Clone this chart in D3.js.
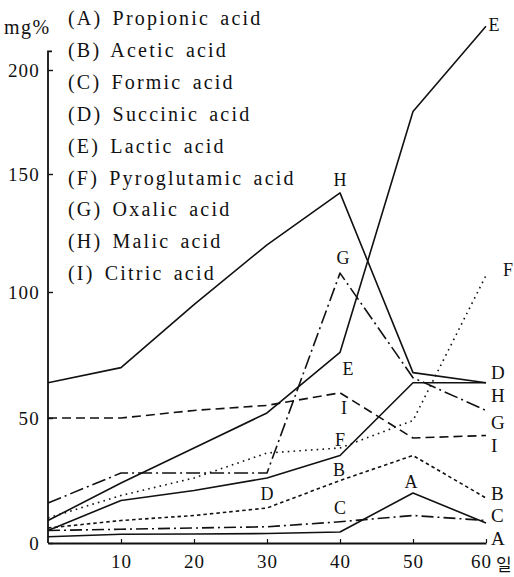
<!DOCTYPE html>
<html>
<head>
<meta charset="utf-8">
<script src="https://cdn.jsdelivr.net/npm/d3@7"></script>
<style>
  html, body { margin: 0; padding: 0; background: #fff; }
  svg { display: block; }
  svg text { font-family: "Liberation Serif", "Times New Roman", "Liberation Sans", sans-serif; }
</style>
</head>
<body>
<svg id="chart"></svg>
<script>
// days of storage
const days = [0, 10, 20, 30, 40, 50, 60];

// mg%
const propionic    = [2.5, 3.5, 3.6, 3.8, 4.4, 20, 8];
const acetic       = [6, 9, 11, 14, 25, 35, 18];
const formic       = [5, 5.5, 6, 6.5, 8.5, 11, 9];
const succinic     = [5, 17, 21, 26, 35, 64, 64];
const lactic       = [9, 24, 38, 52, 76, 180, 221];
const pyroglutamic = [10, 19, 26, 36, 38, 49, 107];
const oxalic       = [16, 28, 28, 28, 108, 66, 53];
const malic        = [64, 70, 95, 120, 142, 68, 64];
const citric       = [50, 50, 53, 55, 60, 42, 43];

const yTicks = [0, 50, 100, 150, 200];
const xTicks = [10, 20, 30, 40, 50, 60];

const legendLabels = [
  "(A) Propionic acid", "(B) Acetic acid", "(C) Formic acid",
  "(D) Succinic acid", "(E) Lactic acid", "(F) Pyroglutamic acid",
  "(G) Oxalic acid", "(H) Malic acid", "(I) Citric acid"
];

const W = 514, H = 577;
const svg = d3.select("#chart")
  .attr("width", W)
  .attr("height", H);

const x = d3.scaleLinear().domain([0, 60]).range([48, 486]);
// the printed axis is not evenly spaced, so the scale is piecewise
const y = d3.scaleLinear().domain(yTicks).range([543, 418, 292, 174, 70]);

const series = [
  { key: "A", v: propionic,    dash: null },
  { key: "B", v: acetic,       dash: "3.5,3" },
  { key: "C", v: formic,       dash: "12,4,2,4" },
  { key: "D", v: succinic,     dash: null },
  { key: "E", v: lactic,       dash: null },
  { key: "F", v: pyroglutamic, dash: "1.6,4.2" },
  { key: "G", v: oxalic,       dash: "14,4,2,4" },
  { key: "H", v: malic,        dash: null },
  { key: "I", v: citric,       dash: "9,5" }
];

const line = d3.line()
  .x((d, i) => x(days[i]))
  .y(d => y(d));

svg.append("g")
  .selectAll("path")
  .data(series)
  .join("path")
  .attr("d", d => line(d.v))
  .attr("fill", "none")
  .attr("stroke", "#111")
  .attr("stroke-width", 1.6)
  .attr("stroke-linejoin", "round")
  .attr("stroke-dasharray", d => d.dash);

// axes
const yAxis = svg.append("g")
  .attr("transform", `translate(${x(0)},0)`)
  .call(d3.axisLeft(y).tickValues(yTicks).tickSize(-5).tickSizeOuter(0).tickPadding(8));
yAxis.attr("font-family", null);
yAxis.select(".domain").remove();
yAxis.selectAll(".tick line").attr("stroke", "#111").attr("stroke-width", 1.4);
yAxis.selectAll(".tick text")
  .attr("fill", "#111")
  .style("font-size", "19px")
  .style("letter-spacing", "1.2px");

svg.append("path")
  .attr("d", `M${x(0)},${y(0)}V${y(209)}h4`)
  .attr("fill", "none")
  .attr("stroke", "#111")
  .attr("stroke-width", 1.8);

const xAxis = svg.append("g")
  .attr("transform", `translate(0,${y(0)})`)
  .call(d3.axisBottom(x).tickValues(xTicks).tickSize(-4).tickSizeOuter(0).tickPadding(12));
xAxis.attr("font-family", null);
xAxis.select(".domain").attr("stroke", "#111").attr("stroke-width", 1.8);
xAxis.selectAll(".tick line").attr("stroke", "#111").attr("stroke-width", 1.2);
xAxis.selectAll(".tick text")
  .attr("fill", "#111")
  .attr("dx", d => d === 60 ? -5 : 0)
  .style("font-size", "19px")
  .style("letter-spacing", "1px");

svg.append("text")
  .attr("x", x(60) + 10)
  .attr("y", y(0) + 28)
  .style("font-size", "17px")
  .style("font-family", "'Noto Sans CJK KR', sans-serif")
  .attr("fill", "#111")
  .text("일");

svg.append("text")
  .attr("x", 4)
  .attr("y", 34)
  .style("font-size", "20px")
  .style("letter-spacing", "1.5px")
  .attr("fill", "#111")
  .text("mg%");

// legend
svg.append("g")
  .selectAll("text")
  .data(legendLabels)
  .join("text")
  .attr("x", 68)
  .attr("y", (d, i) => 18 + i * 31.9)
  .attr("dy", "0.35em")
  .style("font-size", "20px")
  .style("letter-spacing", "2.2px")
  .style("word-spacing", "3px")
  .attr("fill", "#111")
  .text(d => d);

// letters next to the curves
const inline = [
  { t: "E", px: x(60) + 8,  py: y(lactic[6]) - 2 },
  { t: "H", px: x(40),      py: y(malic[4]) - 13 },
  { t: "G", px: x(40) + 3,  py: y(oxalic[4]) - 15 },
  { t: "F", px: x(60) + 22, py: y(pyroglutamic[6]) - 6 },
  { t: "E", px: x(40) + 8,  py: y(lactic[4]) + 16 },
  { t: "I", px: x(40) + 4,  py: y(citric[4]) + 15 },
  { t: "F", px: x(40),      py: y(pyroglutamic[4]) - 8 },
  { t: "B", px: x(40) - 1,  py: y(acetic[4]) - 11 },
  { t: "D", px: x(30),      py: y(succinic[3]) + 16 },
  { t: "A", px: x(50) - 2,  py: y(propionic[5]) - 11 },
  { t: "C", px: x(40),      py: y(formic[4]) - 14 }
];
const rightLabels = [
  { t: "D", v: 68 }, { t: "H", v: 59 }, { t: "G", v: 48.4 }, { t: "I", v: 39 },
  { t: "B", v: 20 }, { t: "C", v: 11 }, { t: "A", v: 2 }
];
svg.append("g")
  .selectAll("text")
  .data(inline)
  .join("text")
  .attr("x", d => d.px)
  .attr("y", d => d.py)
  .attr("dy", "0.35em")
  .attr("text-anchor", "middle")
  .style("font-size", "18px")
  .attr("fill", "#111")
  .text(d => d.t);

svg.append("g")
  .selectAll("text")
  .data(rightLabels)
  .join("text")
  .attr("x", x(60) + 5)
  .attr("y", d => y(d.v))
  .attr("dy", "0.35em")
  .style("font-size", "19px")
  .attr("fill", "#111")
  .text(d => d.t);
</script>
</body>
</html>
